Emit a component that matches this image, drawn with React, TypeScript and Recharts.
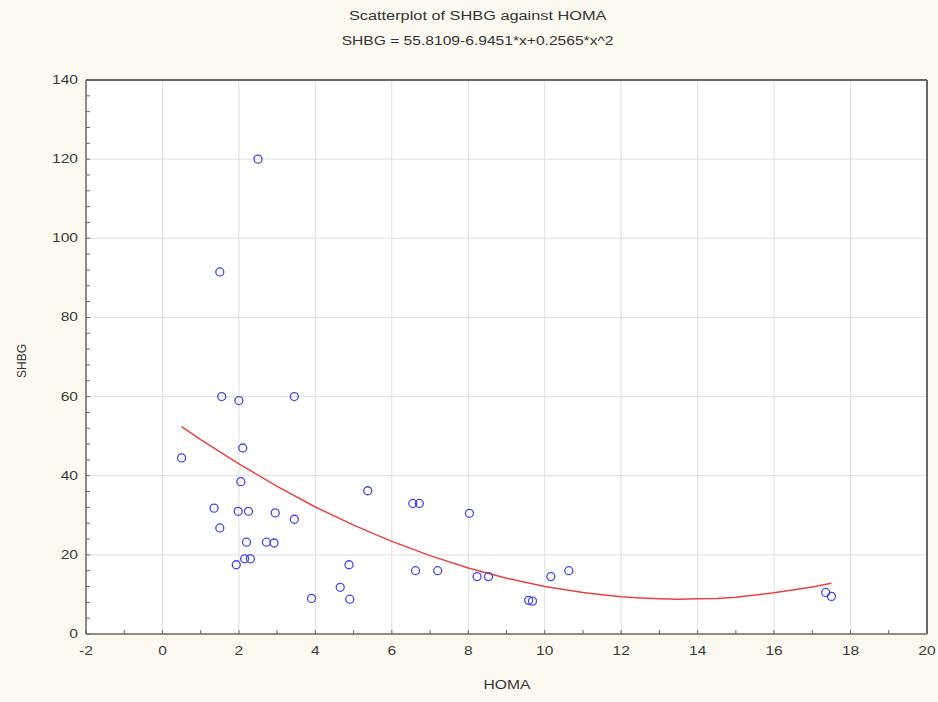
import { ScatterChart, Scatter, XAxis, YAxis, ReferenceLine, ReferenceArea } from 'recharts';

const HOMA = [
  0.5, 1.5, 2.5, 1.55, 2.0, 3.45, 2.1, 2.05, 1.35, 1.98, 2.25, 1.5, 2.2, 2.95, 3.45,
  2.72, 2.92, 1.93, 2.15, 2.3, 5.37, 4.88, 4.65, 4.9, 3.9, 6.55, 6.72, 8.03, 6.62,
  7.2, 8.23, 8.53, 10.16, 10.63, 9.58, 9.68, 17.35, 17.5,
];
const SHBG = [
  44.5, 91.5, 120, 60, 59, 60, 47, 38.5, 31.8, 31, 31, 26.8, 23.2, 30.6, 29,
  23.2, 23, 17.5, 19, 19, 36.2, 17.5, 11.8, 8.8, 9, 33, 33, 30.5, 16,
  16, 14.5, 14.5, 14.5, 16, 8.5, 8.3, 10.5, 9.5,
];

// fitted curve
const FIT_X = [0.5, 1, 2, 3, 4, 5, 6, 7, 8, 9, 10, 11, 11.5, 12, 12.5, 13, 13.5, 14, 14.5, 15, 16, 17, 17.5];
const FIT_Y = [52.4, 49.1, 43.0, 37.3, 32.1, 27.5, 23.4, 19.8, 16.7, 14.1, 12.0, 10.5, 9.9, 9.4, 9.1, 8.9, 8.8, 8.9, 9.0, 9.3, 10.4, 11.9, 12.8];

const X_TICKS = Array.from({ length: 23 }, (_, i) => i - 2);
const Y_TICKS = Array.from({ length: 36 }, (_, i) => i * 4);
const X_GRID = [0, 2, 4, 6, 8, 10, 12, 14, 16, 18];
const Y_GRID = [20, 40, 60, 80, 100, 120];

const points = HOMA.map((x, i) => ({ x, y: SHBG[i] }));
const curve = FIT_X.map((x, i) => ({ x, y: FIT_Y[i] }));

const FONT = '"Liberation Sans", Arial, sans-serif';
const FRAME = '#666666';
const STRETCH = 1.3;

const BottomTick = ({ x, y, payload }: any) => (
  <g>
    <line x1={x} x2={x} y1={y} y2={y - 4} stroke={FRAME} />
    {payload.value % 2 === 0 && (
      <text transform={`translate(${x},${y + 21}) scale(${STRETCH},1)`} textAnchor="middle"
        fontFamily={FONT} fontSize={12} fill="#3a3a3a">{payload.value}</text>
    )}
  </g>
);

const TopTick = ({ x, y }: any) => <line x1={x} x2={x} y1={y} y2={y + 4} stroke={FRAME} />;

const LeftTick = ({ x, y, payload }: any) => (
  <g>
    <line x1={x} x2={x + 4} y1={y} y2={y} stroke={FRAME} />
    {payload.value % 20 === 0 && (
      <text transform={`translate(${x - 8},${y + 4}) scale(${STRETCH},1)`} textAnchor="end"
        fontFamily={FONT} fontSize={12} fill="#3a3a3a">{payload.value}</text>
    )}
  </g>
);

const RightTick = ({ x, y }: any) => <line x1={x} x2={x - 4} y1={y} y2={y} stroke={FRAME} />;

const Ring = ({ cx, cy }: any) => (
  <circle cx={cx} cy={cy} r={4} fill="none" stroke="#4646e6" strokeWidth={1.3} />
);

const stretched = (k: number) => ({ display: 'inline-block', transform: `scaleX(${k})` });

export default function App() {
  return (
    <div style={{ position: 'absolute', left: 0, top: 0, width: 938, height: 702, background: '#fcfaf0', fontFamily: FONT, color: '#333' }}>
      <div style={{ position: 'absolute', left: 0, width: 956, top: 9, textAlign: 'center', fontSize: 12 }}>
        <span style={stretched(1.36)}>Scatterplot of SHBG against HOMA</span>
      </div>
      <div style={{ position: 'absolute', left: 0, width: 956, top: 34, textAlign: 'center', fontSize: 12 }}>
        <span style={stretched(1.3)}>SHBG = 55.8109-6.9451*x+0.2565*x^2</span>
      </div>
      <div style={{ position: 'absolute', left: 22, top: 361, fontSize: 12, transform: 'translate(-50%,-50%) rotate(-90deg)' }}>
        SHBG
      </div>
      <div style={{ position: 'absolute', left: 0, width: 1014, top: 678, textAlign: 'center', fontSize: 12 }}>
        <span style={stretched(STRETCH)}>HOMA</span>
      </div>
      <ScatterChart width={938} height={702} margin={{ top: 79, right: 10, bottom: 67, left: 85 }}>
        <XAxis xAxisId="x" type="number" dataKey="x" domain={[-2, 20]} ticks={X_TICKS} interval={0}
          height={1} tickSize={0} tickMargin={0} tickLine={false} tick={<BottomTick />}
          axisLine={{ stroke: FRAME, strokeWidth: 1.5 }} allowDataOverflow />
        <XAxis xAxisId="top" orientation="top" type="number" domain={[-2, 20]} ticks={X_TICKS} interval={0}
          height={1} tickSize={0} tickMargin={0} tickLine={false} tick={<TopTick />}
          axisLine={{ stroke: FRAME, strokeWidth: 2 }} />
        <YAxis yAxisId="y" type="number" dataKey="y" domain={[0, 140]} ticks={Y_TICKS} interval={0}
          width={1} tickSize={0} tickMargin={0} tickLine={false} tick={<LeftTick />}
          axisLine={{ stroke: FRAME, strokeWidth: 1.5 }} allowDataOverflow />
        <YAxis yAxisId="right" orientation="right" type="number" domain={[0, 140]} ticks={Y_TICKS} interval={0}
          width={1} tickSize={0} tickMargin={0} tickLine={false} tick={<RightTick />}
          axisLine={{ stroke: FRAME, strokeWidth: 2 }} />
        <ReferenceArea xAxisId="x" yAxisId="y" x1={-2} x2={20} y1={0} y2={140} fill="#ffffff" fillOpacity={1} stroke="none" />
        {X_GRID.map((v) => (
          <ReferenceLine key={`gx${v}`} xAxisId="x" yAxisId="y" x={v} stroke="#dedede" />
        ))}
        {Y_GRID.map((v) => (
          <ReferenceLine key={`gy${v}`} xAxisId="x" yAxisId="y" y={v} stroke="#dedede" />
        ))}
        <Scatter xAxisId="x" yAxisId="y" data={curve} line={{ stroke: '#e84242', strokeWidth: 1.5 }}
          lineType="joint" shape={() => <g />} isAnimationActive={false} />
        <Scatter xAxisId="x" yAxisId="y" data={points} shape={<Ring />} isAnimationActive={false} />
      </ScatterChart>
    </div>
  );
}
